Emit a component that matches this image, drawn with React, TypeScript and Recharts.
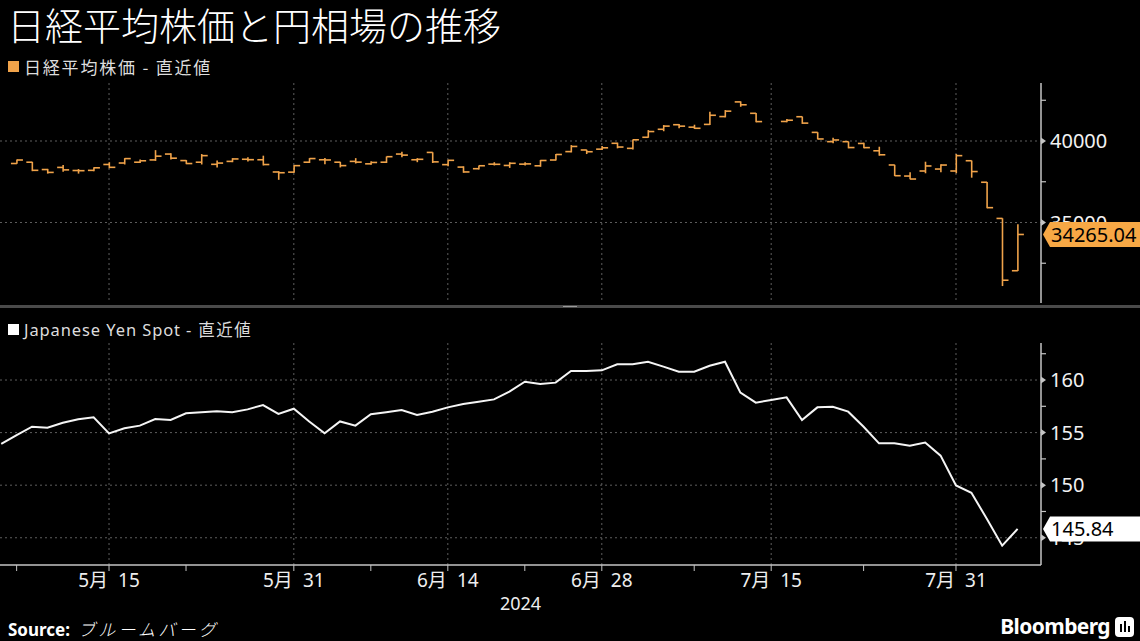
import { Bar, CartesianGrid, ComposedChart, Line, LineChart, XAxis, YAxis } from 'recharts'

const NK = '#f0a34a'
const FONT = "'Noto Sans', 'Noto Sans CJK JP', sans-serif"
const JP = "'Noto Sans CJK JP', 'Noto Sans', sans-serif"
const GRID = '#5e5e5e'
const AXIS = '#c4c4c4'

// x = weekday index, 2024-05-06 = 0 (weekends skipped)
const X_MIN = -0.08
const X_MAX = 67.52
const xMajor = [7, 19, 29, 39, 50, 62]
const xMajorLabels = ['5月 15', '5月 31', '6月 14', '6月 28', '7月 15', '7月 31']
const xMinor = [1, 12, 24, 34, 45, 56]

// 日経平均 (Tokyo holidays 5/6 and 7/15 have no bar)
const nkIdx = [1, 2, 3, 4, 5, 6, 7, 8, 9, 10, 11, 12, 13, 14, 15, 16, 17, 18, 19, 20, 21, 22, 23, 24, 25, 26, 27, 28, 29, 30, 31, 32, 33, 34, 35, 36, 37, 38, 39, 40, 41, 42, 43, 44, 45, 46, 47, 48, 49, 51, 52, 53, 54, 55, 56, 57, 58, 59, 60, 61, 62, 63, 64, 65, 66]
const nkOpen = [38620, 38700, 38250, 38380, 38190, 38200, 38560, 38650, 38700, 38840, 39200, 38800, 38700, 38570, 38750, 38880, 38850, 38100, 38090, 38700, 38850, 38700, 38750, 38600, 38700, 39200, 38850, 39300, 38550, 38400, 38300, 38580, 38500, 38580, 38480, 38834, 39350, 39450, 39500, 39860, 39550, 40230, 40720, 41000, 40850, 41020, 41500, 42400, 41700, 41200, 41490, 40530, 39960, 39960, 39850, 39400, 38530, 37850, 38160, 38280, 38160, 38790, 37470, 35250, 32040]
const nkHigh = [38870, 38720, 38290, 38530, 38280, 38390, 38700, 38950, 38870, 39440, 39250, 38830, 39200, 38800, 38950, 39000, 39100, 38150, 38530, 38950, 38960, 38720, 38950, 38760, 39050, 39340, 38950, 39310, 38850, 38450, 38500, 38700, 38700, 38700, 38840, 39200, 39750, 39460, 39700, 39900, 40100, 40670, 40980, 41050, 41000, 41800, 41900, 42430, 41720, 41350, 41500, 40540, 40200, 39970, 39900, 39650, 38540, 38080, 38730, 38570, 39200, 38800, 37480, 35260, 34890]
const nkLow = [38600, 38150, 38000, 38110, 38000, 38150, 38330, 38560, 38650, 38780, 38870, 38580, 38560, 38370, 38700, 38750, 38500, 37620, 38050, 38650, 38580, 38380, 38620, 38540, 38650, 39000, 38700, 38650, 38450, 38050, 38250, 38500, 38350, 38500, 38420, 38800, 39300, 39200, 39450, 39550, 39480, 40200, 40600, 40780, 40740, 40980, 41450, 42100, 41150, 41150, 41050, 40100, 39860, 39550, 39550, 39100, 37850, 37650, 38020, 38080, 38020, 37750, 35870, 31100, 32030]
const nkClose = [38835, 38202, 38074, 38229, 38179, 38356, 38386, 38920, 38787, 39070, 38947, 38617, 39103, 38646, 38900, 38855, 38557, 38054, 38488, 38923, 38837, 38490, 38704, 38684, 39038, 39135, 38877, 38720, 38815, 38102, 38482, 38571, 38633, 38596, 38805, 39173, 39667, 39342, 39583, 39631, 40075, 40581, 40914, 40912, 40781, 41580, 41832, 42224, 41191, 41275, 41098, 40126, 40064, 39599, 39594, 39155, 37870, 37667, 38469, 38526, 39102, 38126, 35910, 31458, 34265]
const nkLast = 34265.04
const nkTicks = [32500, 35000, 37500, 40000, 42500]
const nkLabeled = [35000, 40000]

// Japanese Yen Spot, one value per weekday from 5/6
const fxValues = [153.92, 154.77, 155.56, 155.47, 155.94, 156.26, 156.45, 154.93, 155.41, 155.66, 156.29, 156.2, 156.83, 156.93, 157.02, 156.93, 157.21, 157.62, 156.77, 157.27, 156.06, 154.93, 156.06, 155.66, 156.74, 156.93, 157.15, 156.67, 156.99, 157.4, 157.72, 157.94, 158.16, 158.89, 159.84, 159.62, 159.75, 160.86, 160.86, 160.92, 161.49, 161.49, 161.74, 161.27, 160.79, 160.79, 161.36, 161.74, 158.8, 157.85, 158.1, 158.35, 156.2, 157.4, 157.46, 156.99, 155.56, 153.98, 153.98, 153.76, 154.05, 152.81, 149.98, 149.28, 146.81, 144.25, 145.84]
const fxLast = 145.84
const fxTicks = [145, 147.5, 150, 152.5, 155, 157.5, 160, 162.5]
const fxLabeled = [145, 150, 155, 160]

const nkRows = nkIdx.map((i, k) => ({ i, open: nkOpen[k], high: nkHigh[k], low: nkLow[k], close: nkClose[k] }))
const fxRows = fxValues.map((v, i) => ({ i, v }))

function Ohlc(p: any) {
  const { x, y, width, height, payload } = p
  if (!payload) return null
  const top = Math.min(y, y + height)
  const bot = Math.max(y, y + height)
  const span = payload.high - payload.low || 1
  const py = (v: number) => top + ((payload.high - v) / span) * (bot - top)
  const cx = x + width / 2
  return (
    <g stroke={NK} strokeWidth={1.6}>
      <line x1={cx} x2={cx} y1={top} y2={bot} />
      <line x1={x} x2={cx} y1={py(payload.open)} y2={py(payload.open)} />
      <line x1={cx} x2={x + width} y1={py(payload.close)} y2={py(payload.close)} />
    </g>
  )
}

// last value tag is passed as the final tick so it is painted over the labels
function RightTick(p: any) {
  const { x, y, payload, labels, last, tagFill } = p
  const v = payload.value
  if (v === last) {
    return (
      <g>
        <path d={`M${x + 2},${y} L${x + 9},${y - 12.5} H${x + 99} V${y + 12.5} H${x + 9} Z`} fill={tagFill} />
        <text x={x + 10} y={y} dy="0.36em" fontSize={20} fill="#000" fontFamily={FONT}>{String(last)}</text>
      </g>
    )
  }
  if (!labels.includes(v)) return <line x1={x} x2={x + 5} y1={y} y2={y} stroke={AXIS} strokeWidth={1.2} />
  return (
    <g>
      <path d={`M${x},${y - 3.5}L${x + 5},${y}L${x},${y + 3.5}Z`} fill={AXIS} />
      <text x={x + 9} y={y} dy="0.36em" fill="#f2f2f2" fontSize={20} fontFamily={FONT}>{v}</text>
    </g>
  )
}

function BottomTick(p: any) {
  const { x, y, payload } = p
  const k = xMajor.indexOf(payload.value)
  if (k < 0) return null
  const [m, d] = xMajorLabels[k].split(' ')
  return (
    <text x={x} y={y} dy="0.85em" textAnchor="middle" fill="#eee" fontSize={19} fontFamily={FONT}>
      <tspan>{m}</tspan>
      <tspan dx={10}>{d}</tspan>
    </text>
  )
}

export default function App() {
  return (
    <div style={{ position: 'relative', width: 1140, height: 641, background: '#000', overflow: 'hidden', fontFamily: FONT }}>
      <style>{'body{margin:0;background:#000}'}</style>
      <div style={{ position: 'absolute', left: 7, top: 3, width: 620, fontSize: 38, lineHeight: '42px', color: '#fff', fontFamily: JP, fontWeight: 300, whiteSpace: 'nowrap' }}>
        日経平均株価と円相場の推移
      </div>
      <div style={{ position: 'absolute', left: 8, top: 54, display: 'flex', alignItems: 'center', color: '#ddd', fontSize: 17, letterSpacing: 1.8, fontFamily: JP, whiteSpace: 'nowrap' }}>
        <span style={{ width: 11, height: 11, background: NK, marginRight: 5 }} />
        日経平均株価 - 直近値
      </div>

      <div style={{ position: 'absolute', left: 0, top: 0 }}>
        <ComposedChart width={1140} height={305} data={nkRows} margin={{ top: 83, right: 0, left: 0, bottom: 2 }}>
          <CartesianGrid stroke={GRID} strokeDasharray="2 3" verticalValues={xMajor} horizontalValues={nkLabeled} />
          <XAxis type="number" dataKey="i" domain={[X_MIN, X_MAX]} ticks={xMajor} hide allowDataOverflow />
          <YAxis orientation="right" width={99} domain={[30060, 43560]} ticks={[...nkTicks, nkLast]} interval={0}
            tickLine={false} tickSize={0} tickMargin={0} axisLine={{ stroke: AXIS, strokeWidth: 1.5 }} allowDataOverflow
            tick={(t: any) => <RightTick {...t} labels={nkLabeled} last={nkLast} tagFill="#f7a845" />} />
          <Bar dataKey={(d: any) => [d.low, d.high]} barSize={12} shape={Ohlc} isAnimationActive={false} />
        </ComposedChart>
      </div>

      <div style={{ position: 'absolute', left: 0, top: 305, width: 1140, height: 3, background: '#4a4a4a' }} />
      <div style={{ position: 'absolute', left: 563, top: 306, width: 14, height: 1, background: '#9a9a9a' }} />

      <div style={{ position: 'absolute', left: 8, top: 317, display: 'flex', alignItems: 'center', color: '#ddd', fontSize: 16.5, letterSpacing: 0.9, whiteSpace: 'nowrap' }}>
        <span style={{ width: 11, height: 11, background: '#fff', marginRight: 5 }} />
        Japanese Yen Spot - <span style={{ fontFamily: JP, marginLeft: 6, letterSpacing: 1.5 }}>直近値</span>
      </div>

      <div style={{ position: 'absolute', left: 0, top: 310 }}>
        <LineChart width={1140} height={320} data={fxRows} margin={{ top: 33, right: 0, left: 0, bottom: 20 }}>
          <CartesianGrid stroke={GRID} strokeDasharray="2 3" verticalValues={xMajor} horizontalValues={fxLabeled} />
          <XAxis type="number" dataKey="i" domain={[X_MIN, X_MAX]} ticks={[...xMinor, ...xMajor].sort((a, b) => a - b)}
            interval={0} height={45} tickSize={6} tickMargin={0} allowDataOverflow
            tickLine={{ stroke: AXIS }} axisLine={{ stroke: AXIS, strokeWidth: 1.5 }}
            tick={(t: any) => <BottomTick {...t} />}
            label={{ value: '2024', position: 'insideBottom', offset: 0, fill: '#eee', fontSize: 18, fontFamily: FONT }} />
          <YAxis orientation="right" width={99} domain={[142.41, 163.52]} ticks={[...fxTicks, fxLast]} interval={0}
            tickLine={false} tickSize={0} tickMargin={0} axisLine={{ stroke: AXIS, strokeWidth: 1.5 }} allowDataOverflow
            tick={(t: any) => <RightTick {...t} labels={fxLabeled} last={fxLast} tagFill="#fff" />} />
          <Line type="linear" dataKey="v" stroke="#f5f5f5" strokeWidth={2} dot={false} isAnimationActive={false} />
        </LineChart>
      </div>

      <div style={{ position: 'absolute', left: 8, top: 616, color: '#fff', fontSize: 17, whiteSpace: 'nowrap' }}>
        <b>Source:</b>
        <span style={{ fontFamily: JP, fontStyle: 'italic', fontWeight: 300, letterSpacing: 3.2, marginLeft: 8 }}>ブルームバーグ</span>
      </div>
      <div style={{ position: 'absolute', right: 30, top: 612, color: '#fff', fontSize: 21, fontWeight: 700, letterSpacing: -0.6 }}>
        Bloomberg
      </div>
      <div style={{ position: 'absolute', left: 1115, top: 617, width: 19, height: 20, background: '#fff', borderRadius: 4 }}>
        <div style={{ position: 'absolute', left: 5, top: 7, width: 2, height: 8, background: '#000' }} />
        <div style={{ position: 'absolute', left: 9, top: 4, width: 2, height: 11, background: '#000' }} />
        <div style={{ position: 'absolute', left: 13, top: 9, width: 2, height: 6, background: '#000' }} />
      </div>
    </div>
  )
}
